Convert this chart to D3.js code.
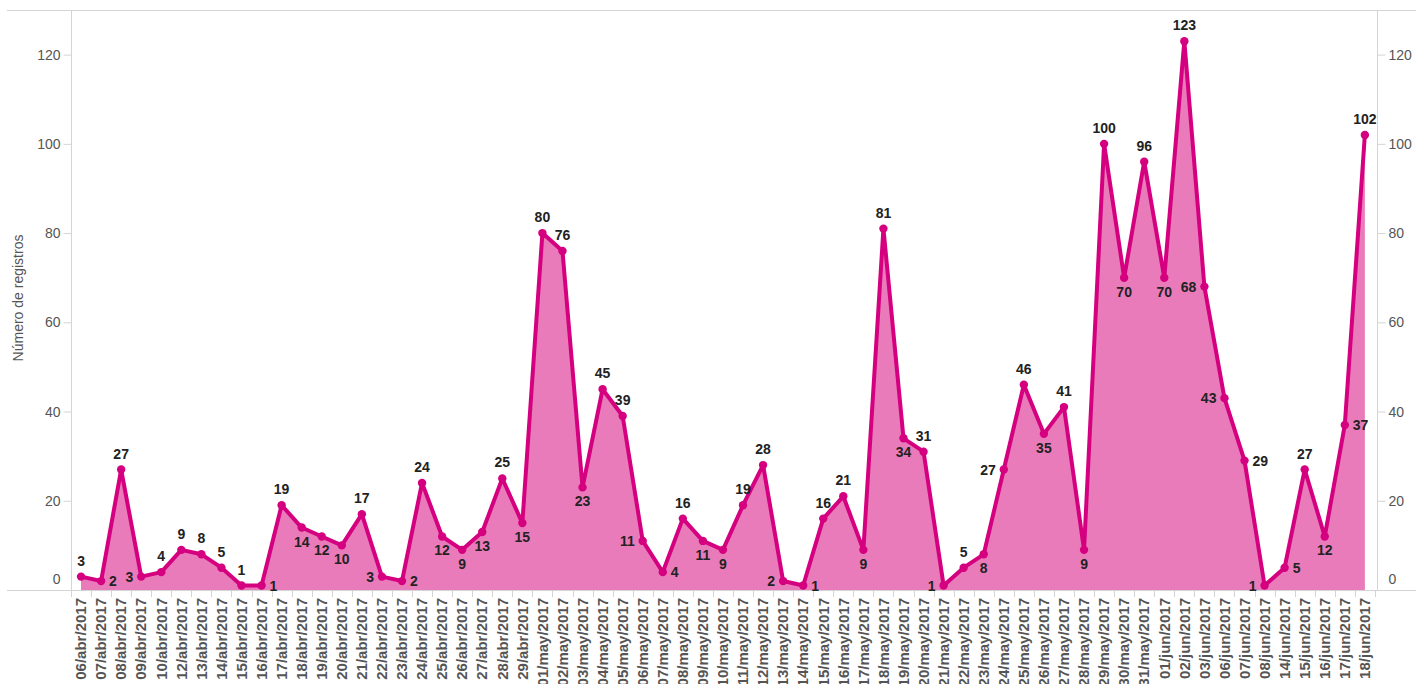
<!DOCTYPE html>
<html><head><meta charset="utf-8">
<script src="https://cdn.jsdelivr.net/npm/d3@7"></script>
<style>body{margin:0;background:#fff;overflow:hidden}svg{display:block}</style>
</head><body>
<svg id="c" width="1416" height="684"></svg>
<script>
const categories = ["06/abr/2017","07/abr/2017","08/abr/2017","09/abr/2017","10/abr/2017","12/abr/2017","13/abr/2017","14/abr/2017","15/abr/2017","16/abr/2017","17/abr/2017","18/abr/2017","19/abr/2017","20/abr/2017","21/abr/2017","22/abr/2017","23/abr/2017","24/abr/2017","25/abr/2017","26/abr/2017","27/abr/2017","28/abr/2017","29/abr/2017",
"01/may/2017","02/may/2017","03/may/2017","04/may/2017","05/may/2017","06/may/2017","07/may/2017","08/may/2017","09/may/2017","10/may/2017","11/may/2017","12/may/2017","13/may/2017","14/may/2017","15/may/2017","16/may/2017","17/may/2017","18/may/2017","19/may/2017","20/may/2017","21/may/2017","22/may/2017","23/may/2017","24/may/2017","25/may/2017","26/may/2017","27/may/2017","28/may/2017","29/may/2017","30/may/2017","31/may/2017",
"01/jun/2017","02/jun/2017","03/jun/2017","06/jun/2017","07/jun/2017","08/jun/2017","14/jun/2017","15/jun/2017","16/jun/2017","17/jun/2017","18/jun/2017"];
const registros = [3,2,27,3,4,9,8,5,1,1,19,14,12,10,17,3,2,24,12,9,13,25,15,
80,76,23,45,39,11,4,16,11,9,19,28,2,1,16,21,9,81,34,31,1,5,8,27,46,35,41,9,100,70,96,
70,123,68,43,29,1,5,27,12,37,102];
const yTicks = [0,20,40,60,80,100,120];
// label placement: t=above, b=below, l=left, r=right
const labelPos = ["t","r","t","l","t","t","t","t","t","r","t","b","b","b","t","l","r","t","b","b","b","t","b",
"t","t","b","t","t","l","r","t","b","b","t","t","l","r","t","t","b","t","b","t","l","t","b","l","t","b","t","b","t","b","t",
"b","t","l","l","r","l","r","t","b","r","t"];
const yTitle = "Número de registros";

const W=1416,H=684;
const mLeft=71,mRight=1377,mTop=10,mBottom=590;
const svg=d3.select("#c");
const x=d3.scaleBand().domain(categories).range([mLeft,mLeft+categories.length*20.06]).padding(0);
const y=d3.scaleLinear().domain([0,130]).range([mBottom,mTop]);
const cx=d=>x(d)+x.bandwidth()/2;
const data=categories.map((c,i)=>({c,v:registros[i],p:labelPos[i]}));
const grey="#d4d4d4";
const FF="Arial, 'Liberation Sans', sans-serif";

svg.append("line").attr("x1",7).attr("x2",W).attr("y1",mTop+0.5).attr("y2",mTop+0.5).attr("stroke",grey);

svg.append("path").datum(data)
 .attr("d",d3.area().x(d=>cx(d.c)).y0(y(0)).y1(d=>y(d.v)))
 .attr("fill","#EA7BBA");
svg.append("path").datum(data)
 .attr("d",d3.line().x(d=>cx(d.c)).y(d=>y(d.v)))
 .attr("fill","none").attr("stroke","#D5007F").attr("stroke-width",4).attr("stroke-linejoin","round");
svg.selectAll("circle.pt").data(data).join("circle")
 .attr("cx",d=>cx(d.c)).attr("cy",d=>y(d.v)).attr("r",4.2).attr("fill","#D5007F");

const yl=d3.axisLeft(y).tickValues(yTicks).tickSize(8).tickPadding(3);
const gl=svg.append("g").attr("transform",`translate(${mLeft+0.5},0)`).call(yl);
const yr=d3.axisRight(y).tickValues(yTicks).tickSize(8).tickPadding(3);
const gr=svg.append("g").attr("transform",`translate(${mRight+0.5},0)`).call(yr);
[gl,gr].forEach(g=>{
 g.select(".domain").attr("stroke",grey).attr("d",`M0,${mTop}V${mBottom}`);
 g.selectAll(".tick line").attr("stroke",grey);
 g.selectAll(".tick text").attr("fill","#555").style("font-family",FF).style("font-size","14px");
 g.selectAll(".tick").filter(d=>d===0).select("text").attr("dy","-0.5em");
});
gl.selectAll(".tick text").attr("x",-11);
gr.selectAll(".tick text").attr("x",11);

const xa=d3.axisBottom(x).tickSize(0).tickPadding(0);
const gx=svg.append("g").attr("transform",`translate(0,${mBottom})`).call(xa);
gx.select(".domain").remove();
svg.append("line").attr("x1",7).attr("x2",W).attr("y1",mBottom+0.5).attr("y2",mBottom+0.5).attr("stroke",grey);
svg.append("g").selectAll("line").data(categories.concat([null])).join("line")
 .attr("x1",(d,i)=>Math.round(mLeft+i*x.step())+0.5).attr("x2",(d,i)=>Math.round(mLeft+i*x.step())+0.5)
 .attr("y1",mBottom).attr("y2",mBottom+7).attr("stroke",grey);
gx.selectAll(".tick text")
 .attr("transform","rotate(-90)").attr("text-anchor","end").attr("x",-8).attr("y",0).attr("dy","0.35em")
 .attr("fill","#555").style("font-family",FF).style("font-size","15px").style("font-weight","bold");

svg.append("text").attr("transform",`translate(23,${(mTop+mBottom)/2-2}) rotate(-90)`)
 .attr("text-anchor","middle").attr("fill","#555")
 .style("font-family",FF).style("font-size","14px").text(yTitle);

const off={t:[0,-11],b:[0,19],l:[-8,5],r:[8,5]};
const anch={t:"middle",b:"middle",l:"end",r:"start"};
svg.append("g").selectAll("text").data(data).join("text")
 .attr("x",d=>cx(d.c)+off[d.p][0]).attr("y",d=>y(d.v)+off[d.p][1])
 .attr("text-anchor",d=>anch[d.p]).attr("fill","#222")
 .style("font-family",FF).style("font-size","14px").style("font-weight","bold")
 .text(d=>d.v);
</script>
</body></html>
